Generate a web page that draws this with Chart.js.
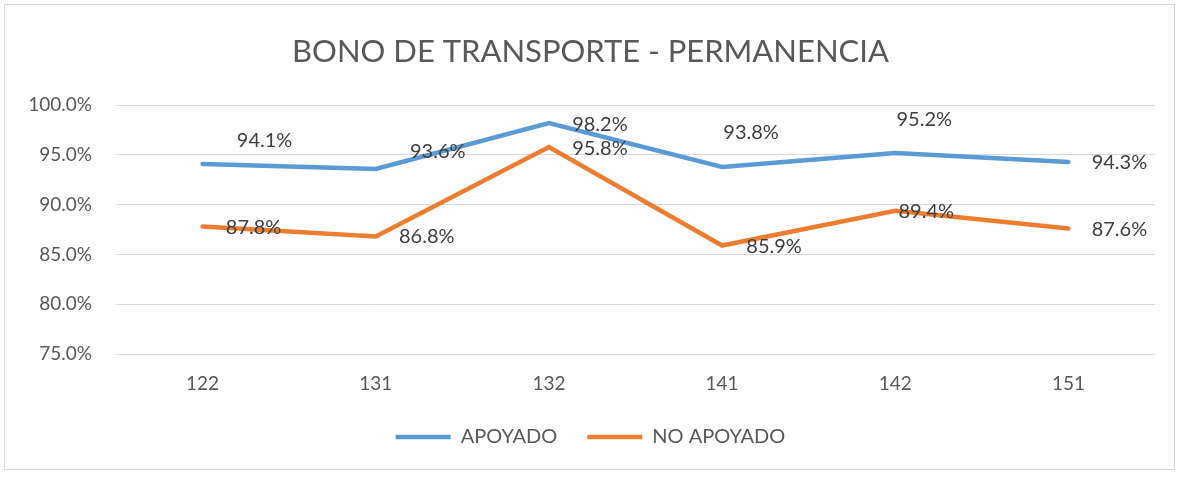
<!DOCTYPE html>
<html>
<head>
<meta charset="utf-8">
<script src="https://cdn.jsdelivr.net/npm/chart.js@4/dist/chart.umd.min.js"></script>
<style>
  html, body { margin: 0; padding: 0; background: #fff; }
  #wrap { position: relative; width: 1180px; height: 477px; }
  #frame { position: absolute; left: 4px; top: 4px; width: 1171px; height: 466px; border: 1px solid #d9d9d9; box-sizing: border-box; pointer-events: none; }
</style>
</head>
<body>
<div id="wrap">
  <canvas id="chart" width="1180" height="477"></canvas>
  <div id="frame"></div>
</div>
<script>
const categories = ['122', '131', '132', '141', '142', '151'];
const apoyado = [94.1, 93.6, 98.2, 93.8, 95.2, 94.3];
const noApoyado = [87.8, 86.8, 95.8, 85.9, 89.4, 87.6];

// where each value label sits relative to its point (px)
const apoyadoLabelOffsets = [[62, -23], [62, -17], [51, 1], [29, -34], [29, -33], [51, 1]];
const noApoyadoLabelOffsets = [[51, 1], [51, 0], [51, 2], [52, 1], [31, 1], [51, 1]];

const fontFamily = 'Lato, "Open Sans", sans-serif';
const textColor = '#595959';

const valueLabels = {
    id: 'valueLabels',
    afterDatasetsDraw(chart) {
        const ctx = chart.ctx;
        ctx.save();
        ctx.font = '20px ' + fontFamily;
        ctx.fillStyle = '#404040';
        ctx.textAlign = 'center';
        ctx.textBaseline = 'middle';
        chart.data.datasets.forEach((ds, di) => {
            const meta = chart.getDatasetMeta(di);
            meta.data.forEach((pt, i) => {
                const off = ds.labelOffsets[i];
                ctx.fillText(ds.data[i].toFixed(1) + '%', pt.x + off[0], pt.y + off[1]);
            });
        });
        ctx.restore();
    }
};

new Chart(document.getElementById('chart').getContext('2d'), {
    type: 'line',
    data: {
        labels: categories,
        datasets: [{
            label: 'APOYADO',
            data: apoyado,
            labelOffsets: apoyadoLabelOffsets,
            borderColor: '#5B9BD5',
            backgroundColor: '#5B9BD5',
            borderWidth: 4.5,
            borderCapStyle: 'round',
            pointRadius: 0,
            tension: 0
        }, {
            label: 'NO APOYADO',
            data: noApoyado,
            labelOffsets: noApoyadoLabelOffsets,
            borderColor: '#ED7D31',
            backgroundColor: '#ED7D31',
            borderWidth: 4.5,
            borderCapStyle: 'round',
            pointRadius: 0,
            tension: 0
        }]
    },
    options: {
        responsive: false,
        animation: false,
        layout: { padding: { left: 26, right: 25, top: 0, bottom: 20 } },
        plugins: {
            title: {
                display: true,
                text: 'BONO DE TRANSPORTE - PERMANENCIA',
                color: textColor,
                font: { family: fontFamily, size: 31, weight: 'normal' },
                padding: { top: 33, bottom: 35 }
            },
            legend: {
                display: true,
                position: 'bottom',
                labels: {
                    usePointStyle: true,
                    pointStyle: 'line',
                    pointStyleWidth: 55,
                    padding: 30,
                    color: textColor,
                    font: { family: fontFamily, size: 20 }
                }
            },
            tooltip: { enabled: false }
        },
        scales: {
            x: {
                offset: true,
                grid: { display: false },
                border: { display: false },
                ticks: { color: textColor, padding: 10, font: { family: fontFamily, size: 19 } },
                afterFit(scale) { scale.height = 43; }
            },
            y: {
                min: 75,
                max: 100,
                grid: { color: '#d9d9d9', lineWidth: 1, drawTicks: false },
                border: { display: false },
                ticks: {
                    stepSize: 5,
                    padding: 24,
                    color: textColor,
                    font: { family: fontFamily, size: 19 },
                    callback: v => v.toFixed(1) + '%'
                },
                afterFit(scale) { scale.width = 90; }
            }
        }
    },
    plugins: [valueLabels]
});
</script>
</body>
</html>
